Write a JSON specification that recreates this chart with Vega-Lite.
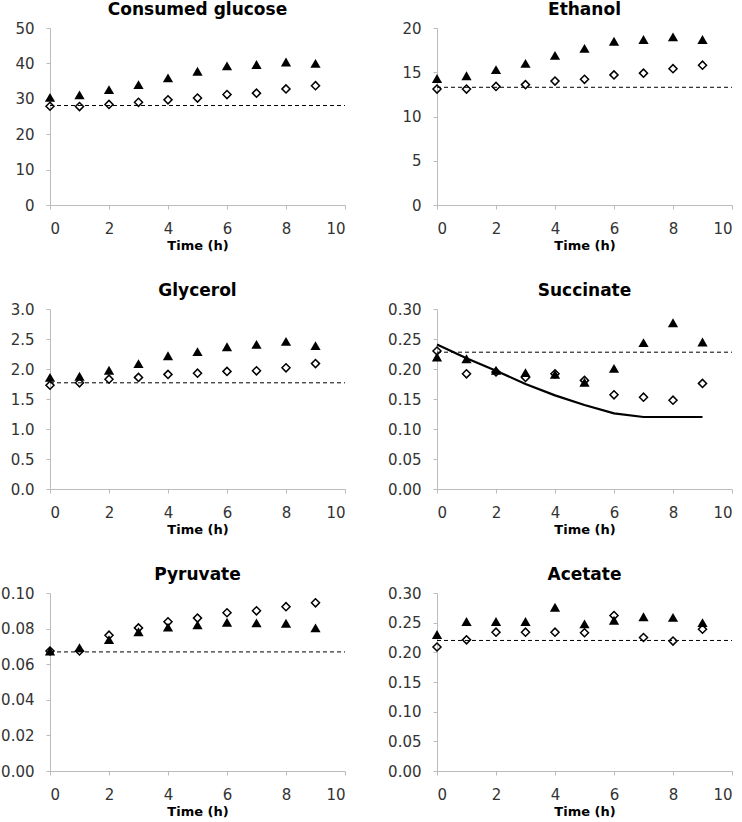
{
  "$schema": "https://vega.github.io/schema/vega-lite/v6.json",
  "background": "white",
  "padding": {"left": 0, "top": 1, "right": 2, "bottom": 2},
  "config": {
    "font": "DejaVu Sans",
    "view": {"stroke": null},
    "axis": {
      "domainColor": "#bcbcbc", "tickColor": "#bcbcbc", "tickSize": 4, "grid": false,
      "labelFont": "DejaVu Sans", "labelFontSize": 15, "labelColor": "#333333", "labelPadding": 12,
      "titleFont": "DejaVu Sans", "titleFontSize": 13, "titleFontWeight": "bold", "titleColor": "black", "titlePadding": 3
    },
    "title": {"font": "DejaVu Sans", "fontSize": 17, "fontWeight": "bold", "color": "black", "offset": 2}
  },
  "datasets": {
    "pts": [
      {"panel": "Consumed glucose", "series": "A", "t": 0, "v": 30.4},
      {"panel": "Consumed glucose", "series": "A", "t": 1, "v": 31.1},
      {"panel": "Consumed glucose", "series": "A", "t": 2, "v": 32.6},
      {"panel": "Consumed glucose", "series": "A", "t": 3, "v": 34.0},
      {"panel": "Consumed glucose", "series": "A", "t": 4, "v": 35.9},
      {"panel": "Consumed glucose", "series": "A", "t": 5, "v": 37.8},
      {"panel": "Consumed glucose", "series": "A", "t": 6, "v": 39.3},
      {"panel": "Consumed glucose", "series": "A", "t": 7, "v": 39.7},
      {"panel": "Consumed glucose", "series": "A", "t": 8, "v": 40.4},
      {"panel": "Consumed glucose", "series": "A", "t": 9, "v": 40.0},
      {"panel": "Consumed glucose", "series": "B", "t": 0, "v": 27.9},
      {"panel": "Consumed glucose", "series": "B", "t": 1, "v": 27.8},
      {"panel": "Consumed glucose", "series": "B", "t": 2, "v": 28.4},
      {"panel": "Consumed glucose", "series": "B", "t": 3, "v": 29.0},
      {"panel": "Consumed glucose", "series": "B", "t": 4, "v": 29.7},
      {"panel": "Consumed glucose", "series": "B", "t": 5, "v": 30.2},
      {"panel": "Consumed glucose", "series": "B", "t": 6, "v": 31.2},
      {"panel": "Consumed glucose", "series": "B", "t": 7, "v": 31.6},
      {"panel": "Consumed glucose", "series": "B", "t": 8, "v": 32.8},
      {"panel": "Consumed glucose", "series": "B", "t": 9, "v": 33.7},
      {"panel": "Ethanol", "series": "A", "t": 0, "v": 14.3},
      {"panel": "Ethanol", "series": "A", "t": 1, "v": 14.6},
      {"panel": "Ethanol", "series": "A", "t": 2, "v": 15.3},
      {"panel": "Ethanol", "series": "A", "t": 3, "v": 16.0},
      {"panel": "Ethanol", "series": "A", "t": 4, "v": 16.9},
      {"panel": "Ethanol", "series": "A", "t": 5, "v": 17.7},
      {"panel": "Ethanol", "series": "A", "t": 6, "v": 18.5},
      {"panel": "Ethanol", "series": "A", "t": 7, "v": 18.7},
      {"panel": "Ethanol", "series": "A", "t": 8, "v": 19.0},
      {"panel": "Ethanol", "series": "A", "t": 9, "v": 18.7},
      {"panel": "Ethanol", "series": "B", "t": 0, "v": 13.1},
      {"panel": "Ethanol", "series": "B", "t": 1, "v": 13.1},
      {"panel": "Ethanol", "series": "B", "t": 2, "v": 13.4},
      {"panel": "Ethanol", "series": "B", "t": 3, "v": 13.6},
      {"panel": "Ethanol", "series": "B", "t": 4, "v": 14.0},
      {"panel": "Ethanol", "series": "B", "t": 5, "v": 14.2},
      {"panel": "Ethanol", "series": "B", "t": 6, "v": 14.7},
      {"panel": "Ethanol", "series": "B", "t": 7, "v": 14.9},
      {"panel": "Ethanol", "series": "B", "t": 8, "v": 15.4},
      {"panel": "Ethanol", "series": "B", "t": 9, "v": 15.8},
      {"panel": "Glycerol", "series": "A", "t": 0, "v": 1.86},
      {"panel": "Glycerol", "series": "A", "t": 1, "v": 1.88},
      {"panel": "Glycerol", "series": "A", "t": 2, "v": 1.98},
      {"panel": "Glycerol", "series": "A", "t": 3, "v": 2.09},
      {"panel": "Glycerol", "series": "A", "t": 4, "v": 2.22},
      {"panel": "Glycerol", "series": "A", "t": 5, "v": 2.29},
      {"panel": "Glycerol", "series": "A", "t": 6, "v": 2.37},
      {"panel": "Glycerol", "series": "A", "t": 7, "v": 2.41},
      {"panel": "Glycerol", "series": "A", "t": 8, "v": 2.46},
      {"panel": "Glycerol", "series": "A", "t": 9, "v": 2.39},
      {"panel": "Glycerol", "series": "B", "t": 0, "v": 1.73},
      {"panel": "Glycerol", "series": "B", "t": 1, "v": 1.77},
      {"panel": "Glycerol", "series": "B", "t": 2, "v": 1.83},
      {"panel": "Glycerol", "series": "B", "t": 3, "v": 1.86},
      {"panel": "Glycerol", "series": "B", "t": 4, "v": 1.91},
      {"panel": "Glycerol", "series": "B", "t": 5, "v": 1.93},
      {"panel": "Glycerol", "series": "B", "t": 6, "v": 1.96},
      {"panel": "Glycerol", "series": "B", "t": 7, "v": 1.97},
      {"panel": "Glycerol", "series": "B", "t": 8, "v": 2.02},
      {"panel": "Glycerol", "series": "B", "t": 9, "v": 2.09},
      {"panel": "Succinate", "series": "A", "t": 0, "v": 0.220},
      {"panel": "Succinate", "series": "A", "t": 1, "v": 0.217},
      {"panel": "Succinate", "series": "A", "t": 2, "v": 0.198},
      {"panel": "Succinate", "series": "A", "t": 3, "v": 0.194},
      {"panel": "Succinate", "series": "A", "t": 4, "v": 0.191},
      {"panel": "Succinate", "series": "A", "t": 5, "v": 0.178},
      {"panel": "Succinate", "series": "A", "t": 6, "v": 0.201},
      {"panel": "Succinate", "series": "A", "t": 7, "v": 0.244},
      {"panel": "Succinate", "series": "A", "t": 8, "v": 0.277},
      {"panel": "Succinate", "series": "A", "t": 9, "v": 0.245},
      {"panel": "Succinate", "series": "B", "t": 0, "v": 0.230},
      {"panel": "Succinate", "series": "B", "t": 1, "v": 0.192},
      {"panel": "Succinate", "series": "B", "t": 2, "v": 0.195},
      {"panel": "Succinate", "series": "B", "t": 3, "v": 0.186},
      {"panel": "Succinate", "series": "B", "t": 4, "v": 0.192},
      {"panel": "Succinate", "series": "B", "t": 5, "v": 0.181},
      {"panel": "Succinate", "series": "B", "t": 6, "v": 0.157},
      {"panel": "Succinate", "series": "B", "t": 7, "v": 0.153},
      {"panel": "Succinate", "series": "B", "t": 8, "v": 0.148},
      {"panel": "Succinate", "series": "B", "t": 9, "v": 0.176},
      {"panel": "Pyruvate", "series": "A", "t": 0, "v": 0.0674},
      {"panel": "Pyruvate", "series": "A", "t": 1, "v": 0.0693},
      {"panel": "Pyruvate", "series": "A", "t": 2, "v": 0.0738},
      {"panel": "Pyruvate", "series": "A", "t": 3, "v": 0.0782},
      {"panel": "Pyruvate", "series": "A", "t": 4, "v": 0.0808},
      {"panel": "Pyruvate", "series": "A", "t": 5, "v": 0.0821},
      {"panel": "Pyruvate", "series": "A", "t": 6, "v": 0.0836},
      {"panel": "Pyruvate", "series": "A", "t": 7, "v": 0.0832},
      {"panel": "Pyruvate", "series": "A", "t": 8, "v": 0.0830},
      {"panel": "Pyruvate", "series": "A", "t": 9, "v": 0.0804},
      {"panel": "Pyruvate", "series": "B", "t": 0, "v": 0.0674},
      {"panel": "Pyruvate", "series": "B", "t": 1, "v": 0.0674},
      {"panel": "Pyruvate", "series": "B", "t": 2, "v": 0.0763},
      {"panel": "Pyruvate", "series": "B", "t": 3, "v": 0.0804},
      {"panel": "Pyruvate", "series": "B", "t": 4, "v": 0.0838},
      {"panel": "Pyruvate", "series": "B", "t": 5, "v": 0.0859},
      {"panel": "Pyruvate", "series": "B", "t": 6, "v": 0.0889},
      {"panel": "Pyruvate", "series": "B", "t": 7, "v": 0.0900},
      {"panel": "Pyruvate", "series": "B", "t": 8, "v": 0.0923},
      {"panel": "Pyruvate", "series": "B", "t": 9, "v": 0.0945},
      {"panel": "Acetate", "series": "A", "t": 0, "v": 0.230},
      {"panel": "Acetate", "series": "A", "t": 1, "v": 0.252},
      {"panel": "Acetate", "series": "A", "t": 2, "v": 0.252},
      {"panel": "Acetate", "series": "A", "t": 3, "v": 0.252},
      {"panel": "Acetate", "series": "A", "t": 4, "v": 0.276},
      {"panel": "Acetate", "series": "A", "t": 5, "v": 0.248},
      {"panel": "Acetate", "series": "A", "t": 6, "v": 0.254},
      {"panel": "Acetate", "series": "A", "t": 7, "v": 0.260},
      {"panel": "Acetate", "series": "A", "t": 8, "v": 0.259},
      {"panel": "Acetate", "series": "A", "t": 9, "v": 0.250},
      {"panel": "Acetate", "series": "B", "t": 0, "v": 0.209},
      {"panel": "Acetate", "series": "B", "t": 1, "v": 0.221},
      {"panel": "Acetate", "series": "B", "t": 2, "v": 0.234},
      {"panel": "Acetate", "series": "B", "t": 3, "v": 0.234},
      {"panel": "Acetate", "series": "B", "t": 4, "v": 0.234},
      {"panel": "Acetate", "series": "B", "t": 5, "v": 0.233},
      {"panel": "Acetate", "series": "B", "t": 6, "v": 0.262},
      {"panel": "Acetate", "series": "B", "t": 7, "v": 0.225},
      {"panel": "Acetate", "series": "B", "t": 8, "v": 0.219},
      {"panel": "Acetate", "series": "B", "t": 9, "v": 0.239}
    ],
    "ref": [
      {"panel": "Consumed glucose", "t": 0, "t1": 10, "v": 28.1},
      {"panel": "Ethanol", "t": 0, "t1": 10, "v": 13.3},
      {"panel": "Glycerol", "t": 0, "t1": 10, "v": 1.77},
      {"panel": "Succinate", "t": 0, "t1": 10, "v": 0.228},
      {"panel": "Pyruvate", "t": 0, "t1": 10, "v": 0.0669},
      {"panel": "Acetate", "t": 0, "t1": 10, "v": 0.220}
    ],
    "model": [
      {"panel": "Succinate", "t": 0, "v": 0.241},
      {"panel": "Succinate", "t": 1, "v": 0.218},
      {"panel": "Succinate", "t": 2, "v": 0.197},
      {"panel": "Succinate", "t": 3, "v": 0.175},
      {"panel": "Succinate", "t": 4, "v": 0.156},
      {"panel": "Succinate", "t": 5, "v": 0.140},
      {"panel": "Succinate", "t": 6, "v": 0.126},
      {"panel": "Succinate", "t": 7, "v": 0.120},
      {"panel": "Succinate", "t": 8, "v": 0.120},
      {"panel": "Succinate", "t": 9, "v": 0.120}
    ]
  },
  "columns": 2,
  "spacing": {"row": 30, "column": 41},
  "concat": [
    {
      "width": 295, "height": 177, "title": "Consumed glucose",
      "encoding": {
        "x": {"field": "t", "type": "quantitative", "scale": {"domain": [0, 10], "nice": false}, "axis": {"values": [0, 2, 4, 6, 8, 10], "title": "Time (h)"}},
        "y": {"field": "v", "type": "quantitative", "scale": {"domain": [0, 50], "nice": false}, "axis": {"values": [0, 10, 20, 30, 40, 50], "format": "d", "title": null}}
      },
      "layer": [
        {"data": {"name": "ref"}, "transform": [{"filter": "datum.panel === 'Consumed glucose'"}], "mark": {"type": "rule", "strokeDash": [4, 3], "strokeWidth": 1, "color": "black"}, "encoding": {"x2": {"field": "t1"}}},
        {"data": {"name": "pts"}, "transform": [{"filter": "datum.panel === 'Consumed glucose' && datum.series === 'A'"}], "mark": {"type": "point", "shape": "triangle-up", "filled": true, "color": "black", "size": 105, "opacity": 1}},
        {"data": {"name": "pts"}, "transform": [{"filter": "datum.panel === 'Consumed glucose' && datum.series === 'B'"}], "mark": {"type": "point", "shape": "diamond", "filled": false, "color": "black", "strokeWidth": 1.5, "size": 65, "opacity": 1}}
      ]
    },
    {
      "width": 295, "height": 177, "title": "Ethanol",
      "encoding": {
        "x": {"field": "t", "type": "quantitative", "scale": {"domain": [0, 10], "nice": false}, "axis": {"values": [0, 2, 4, 6, 8, 10], "title": "Time (h)"}},
        "y": {"field": "v", "type": "quantitative", "scale": {"domain": [0, 20], "nice": false}, "axis": {"values": [0, 5, 10, 15, 20], "format": "d", "title": null}}
      },
      "layer": [
        {"data": {"name": "ref"}, "transform": [{"filter": "datum.panel === 'Ethanol'"}], "mark": {"type": "rule", "strokeDash": [4, 3], "strokeWidth": 1, "color": "black"}, "encoding": {"x2": {"field": "t1"}}},
        {"data": {"name": "pts"}, "transform": [{"filter": "datum.panel === 'Ethanol' && datum.series === 'A'"}], "mark": {"type": "point", "shape": "triangle-up", "filled": true, "color": "black", "size": 105, "opacity": 1}},
        {"data": {"name": "pts"}, "transform": [{"filter": "datum.panel === 'Ethanol' && datum.series === 'B'"}], "mark": {"type": "point", "shape": "diamond", "filled": false, "color": "black", "strokeWidth": 1.5, "size": 65, "opacity": 1}}
      ]
    },
    {
      "width": 295, "height": 180, "title": "Glycerol",
      "encoding": {
        "x": {"field": "t", "type": "quantitative", "scale": {"domain": [0, 10], "nice": false}, "axis": {"values": [0, 2, 4, 6, 8, 10], "title": "Time (h)"}},
        "y": {"field": "v", "type": "quantitative", "scale": {"domain": [0, 3], "nice": false}, "axis": {"values": [0, 0.5, 1, 1.5, 2, 2.5, 3], "format": ".1f", "title": null}}
      },
      "layer": [
        {"data": {"name": "ref"}, "transform": [{"filter": "datum.panel === 'Glycerol'"}], "mark": {"type": "rule", "strokeDash": [4, 3], "strokeWidth": 1, "color": "black"}, "encoding": {"x2": {"field": "t1"}}},
        {"data": {"name": "pts"}, "transform": [{"filter": "datum.panel === 'Glycerol' && datum.series === 'A'"}], "mark": {"type": "point", "shape": "triangle-up", "filled": true, "color": "black", "size": 105, "opacity": 1}},
        {"data": {"name": "pts"}, "transform": [{"filter": "datum.panel === 'Glycerol' && datum.series === 'B'"}], "mark": {"type": "point", "shape": "diamond", "filled": false, "color": "black", "strokeWidth": 1.5, "size": 65, "opacity": 1}}
      ]
    },
    {
      "width": 295, "height": 180, "title": "Succinate",
      "encoding": {
        "x": {"field": "t", "type": "quantitative", "scale": {"domain": [0, 10], "nice": false}, "axis": {"values": [0, 2, 4, 6, 8, 10], "title": "Time (h)"}},
        "y": {"field": "v", "type": "quantitative", "scale": {"domain": [0, 0.3], "nice": false}, "axis": {"values": [0, 0.05, 0.1, 0.15, 0.2, 0.25, 0.3], "format": ".2f", "title": null}}
      },
      "layer": [
        {"data": {"name": "ref"}, "transform": [{"filter": "datum.panel === 'Succinate'"}], "mark": {"type": "rule", "strokeDash": [4, 3], "strokeWidth": 1, "color": "black"}, "encoding": {"x2": {"field": "t1"}}},
        {"data": {"name": "model"}, "mark": {"type": "line", "color": "black", "strokeWidth": 2.2}, "encoding": {}},
        {"data": {"name": "pts"}, "transform": [{"filter": "datum.panel === 'Succinate' && datum.series === 'A'"}], "mark": {"type": "point", "shape": "triangle-up", "filled": true, "color": "black", "size": 105, "opacity": 1}},
        {"data": {"name": "pts"}, "transform": [{"filter": "datum.panel === 'Succinate' && datum.series === 'B'"}], "mark": {"type": "point", "shape": "diamond", "filled": false, "color": "black", "strokeWidth": 1.5, "size": 65, "opacity": 1}}
      ]
    },
    {
      "width": 295, "height": 178, "title": "Pyruvate",
      "encoding": {
        "x": {"field": "t", "type": "quantitative", "scale": {"domain": [0, 10], "nice": false}, "axis": {"values": [0, 2, 4, 6, 8, 10], "title": "Time (h)"}},
        "y": {"field": "v", "type": "quantitative", "scale": {"domain": [0, 0.1], "nice": false}, "axis": {"values": [0, 0.02, 0.04, 0.06, 0.08, 0.1], "format": ".2f", "title": null}}
      },
      "layer": [
        {"data": {"name": "ref"}, "transform": [{"filter": "datum.panel === 'Pyruvate'"}], "mark": {"type": "rule", "strokeDash": [4, 3], "strokeWidth": 1, "color": "black"}, "encoding": {"x2": {"field": "t1"}}},
        {"data": {"name": "pts"}, "transform": [{"filter": "datum.panel === 'Pyruvate' && datum.series === 'B'"}], "mark": {"type": "point", "shape": "diamond", "filled": false, "color": "black", "strokeWidth": 1.5, "size": 65, "opacity": 1}},
        {"data": {"name": "pts"}, "transform": [{"filter": "datum.panel === 'Pyruvate' && datum.series === 'A'"}], "mark": {"type": "point", "shape": "triangle-up", "filled": true, "color": "black", "size": 105, "opacity": 1}}
      ]
    },
    {
      "width": 295, "height": 178, "title": "Acetate",
      "encoding": {
        "x": {"field": "t", "type": "quantitative", "scale": {"domain": [0, 10], "nice": false}, "axis": {"values": [0, 2, 4, 6, 8, 10], "title": "Time (h)"}},
        "y": {"field": "v", "type": "quantitative", "scale": {"domain": [0, 0.3], "nice": false}, "axis": {"values": [0, 0.05, 0.1, 0.15, 0.2, 0.25, 0.3], "format": ".2f", "title": null}}
      },
      "layer": [
        {"data": {"name": "ref"}, "transform": [{"filter": "datum.panel === 'Acetate'"}], "mark": {"type": "rule", "strokeDash": [4, 3], "strokeWidth": 1, "color": "black"}, "encoding": {"x2": {"field": "t1"}}},
        {"data": {"name": "pts"}, "transform": [{"filter": "datum.panel === 'Acetate' && datum.series === 'A'"}], "mark": {"type": "point", "shape": "triangle-up", "filled": true, "color": "black", "size": 105, "opacity": 1}},
        {"data": {"name": "pts"}, "transform": [{"filter": "datum.panel === 'Acetate' && datum.series === 'B'"}], "mark": {"type": "point", "shape": "diamond", "filled": false, "color": "black", "strokeWidth": 1.5, "size": 65, "opacity": 1}}
      ]
    }
  ]
}
